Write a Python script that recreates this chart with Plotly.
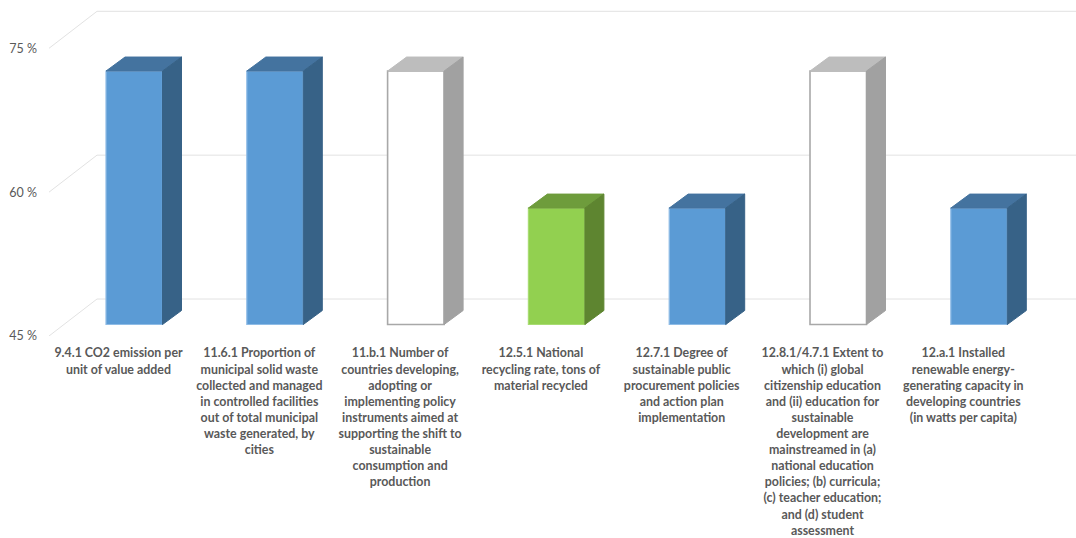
import plotly.graph_objects as go

categories = [
    "9.4.1 CO2 emission per<br>unit of value added",
    "11.6.1 Proportion of<br>municipal solid waste<br>collected and managed<br>in controlled facilities<br>out of total municipal<br>waste generated, by<br>cities",
    "11.b.1 Number of<br>countries developing,<br>adopting or<br>implementing policy<br>instruments aimed at<br>supporting the shift to<br>sustainable<br>consumption and<br>production",
    "12.5.1 National<br>recycling rate, tons of<br>material recycled",
    "12.7.1 Degree of<br>sustainable public<br>procurement policies<br>and action plan<br>implementation",
    "12.8.1/4.7.1 Extent to<br>which (i) global<br>citizenship education<br>and (ii) education for<br>sustainable<br>development are<br>mainstreamed in (a)<br>national education<br>policies; (b) curricula;<br>(c) teacher education;<br>and (d) student<br>assessment",
    "12.a.1 Installed<br>renewable energy-<br>generating capacity in<br>developing countries<br>(in watts per capita)",
]
values = [71.43, 71.43, 71.43, 57.14, 57.14, 71.43, 57.14]
status = ["blue", "blue", "white", "green", "blue", "white", "blue"]
y_ticks = [45, 60, 75]
y_tick_labels = ["45 %", "60 %", "75 %"]

# face colours: front, line, top, side, line width
palette = {
    "blue": ("#5B9BD5", "#8FBCE6", "#44739F", "#376287", 1.2),
    "white": ("#FFFFFF", "#A8A8A8", "#BDBDBD", "#A1A1A1", 1.6),
    "green": ("#92D050", "#A8DC72", "#6E9C3C", "#5E8530", 1.2),
}

W, H = 1076, 538
PX_PER_CAT = 140.8
PX_PER_UNIT = 9.59
AXIS_LEFT = 49
AXIS_BOTTOM = 336
CAT0_PX = 118.5
FLOOR_PX = 324.5

x_range = [(AXIS_LEFT - CAT0_PX) / PX_PER_CAT, (W - CAT0_PX) / PX_PER_CAT]
y_range = [45, 45 + AXIS_BOTTOM / PX_PER_UNIT]
y2_range = [45 - (AXIS_BOTTOM - FLOOR_PX) / PX_PER_UNIT, 45 + FLOOR_PX / PX_PER_UNIT]

bar_offset = -12.5 / PX_PER_CAT
bar_width = 56.5 / PX_PER_CAT
depth_x = 19 / PX_PER_CAT
depth_y = 14 / PX_PER_UNIT
wall_x = 48 / PX_PER_CAT
wall_y = 37 / PX_PER_UNIT

fig = go.Figure()

for t in y_ticks:
    fig.add_trace(go.Scatter(
        x=[x_range[0], x_range[0] + wall_x, x_range[1]],
        y=[t, t + wall_y, t + wall_y],
        mode="lines", line=dict(color="#E2E2E2", width=1),
        xaxis="x", yaxis="y", hoverinfo="skip", showlegend=False))

idx = list(range(len(categories)))
fig.add_trace(go.Bar(
    x=idx, y=[v - 45 for v in values], base=45,
    offset=bar_offset, width=bar_width,
    marker=dict(color=[palette[s][0] for s in status],
                line=dict(color=[palette[s][1] for s in status],
                          width=[palette[s][4] for s in status])),
    xaxis="x", yaxis="y2", showlegend=False))

for i, v, s in zip(idx, values, status):
    xl = i + bar_offset
    xr = xl + bar_width
    top_c = palette[s][2]
    side_c = palette[s][3]
    fig.add_trace(go.Scatter(
        x=[xl, xr, xr + depth_x, xl + depth_x, xl],
        y=[v, v, v + depth_y, v + depth_y, v],
        mode="lines", fill="toself", fillcolor=top_c,
        line=dict(color=top_c, width=1),
        xaxis="x", yaxis="y2", hoverinfo="skip", showlegend=False))
    fig.add_trace(go.Scatter(
        x=[xr, xr + depth_x, xr + depth_x, xr, xr],
        y=[v, v + depth_y, 45 + depth_y, 45, v],
        mode="lines", fill="toself", fillcolor=side_c,
        line=dict(color=side_c, width=1),
        xaxis="x", yaxis="y2", hoverinfo="skip", showlegend=False))

fig.update_layout(
    width=W, height=H,
    margin=dict(l=0, r=0, t=0, b=0),
    paper_bgcolor="white", plot_bgcolor="white",
    barmode="overlay",
    font=dict(family="Lato", color="#595959"),
    xaxis=dict(
        domain=[AXIS_LEFT / W, 1], range=x_range, anchor="y",
        tickmode="array", tickvals=idx, ticktext=[f"<b>{c}</b>" for c in categories],
        tickangle=0, showgrid=False, zeroline=False, showline=False, ticks="",
        ticklabelstandoff=8, automargin=False,
        tickfont=dict(family="Lato", size=12.4, color="#595959")),
    yaxis=dict(
        domain=[(H - AXIS_BOTTOM) / H, 1], range=y_range, anchor="x",
        tickmode="array", tickvals=y_ticks, ticktext=y_tick_labels,
        showgrid=False, zeroline=False, showline=False, ticks="",
        ticklabelstandoff=11, automargin=False,
        tickfont=dict(family="Lato", size=12.5, color="#595959")),
    yaxis2=dict(
        domain=[(H - AXIS_BOTTOM) / H, 1], range=y2_range, anchor="x",
        overlaying="y", visible=False),
)

fig.write_html("out.html", config={"displayModeBar": False},
               post_script="document.body.style.margin='0';document.body.style.overflow='hidden';")
